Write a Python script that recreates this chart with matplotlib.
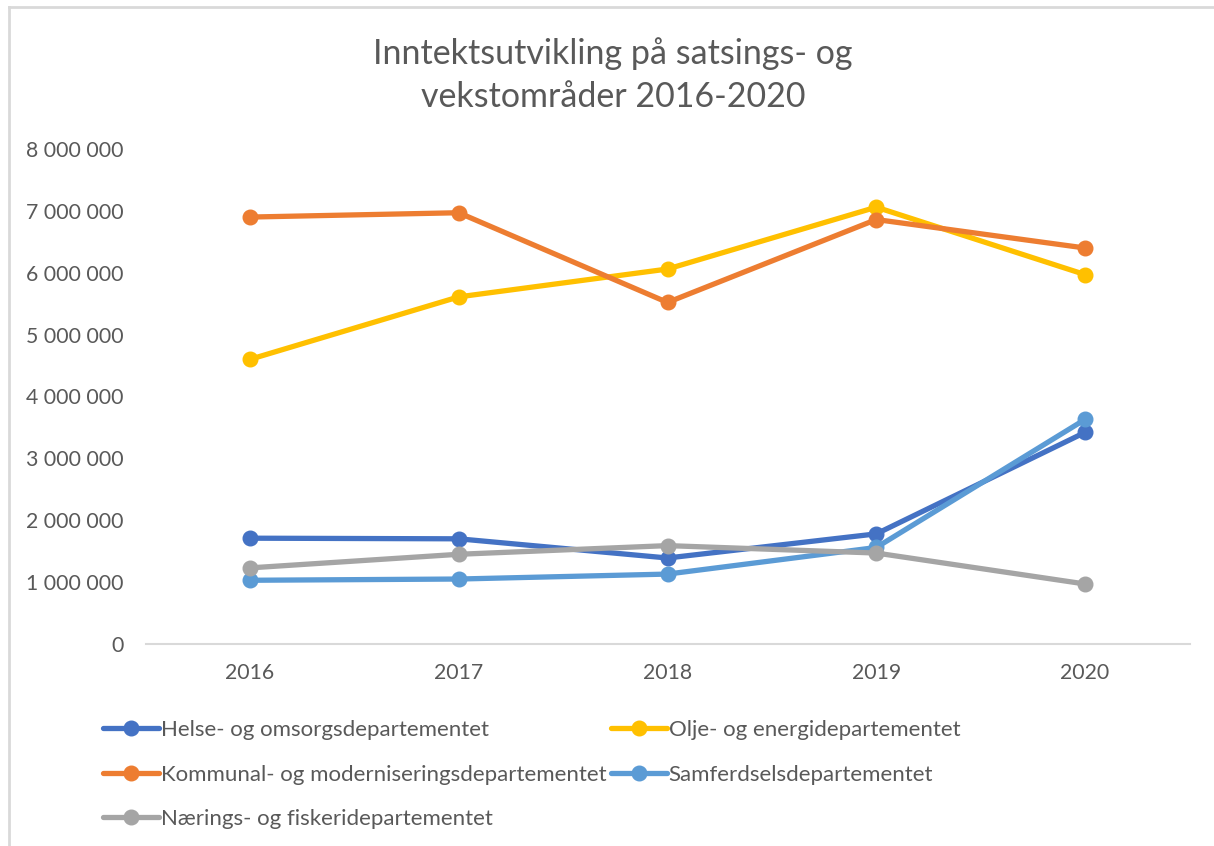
import matplotlib
matplotlib.use("Agg")
import matplotlib.pyplot as plt
from matplotlib.lines import Line2D
from matplotlib.ticker import FuncFormatter

plt.rcParams['font.family'] = ['Lato', 'DejaVu Sans']

# Data
years = ["2016", "2017", "2018", "2019", "2020"]
helse = [1710000, 1700000, 1390000, 1780000, 3420000]
olje = [4600000, 5610000, 6060000, 7060000, 5970000]
kommunal = [6900000, 6970000, 5520000, 6860000, 6400000]
samferdsel = [1030000, 1050000, 1130000, 1560000, 3630000]
naering = [1230000, 1450000, 1590000, 1470000, 970000]

series_names = [
    "Helse- og omsorgsdepartementet",
    "Olje- og energidepartementet",
    "Kommunal- og moderniseringsdepartementet",
    "Samferdselsdepartementet",
    "Nærings- og fiskeridepartementet",
]
series_values = [helse, olje, kommunal, samferdsel, naering]
colors = ["#4472C4", "#FFC000", "#ED7D31", "#5B9BD5", "#A5A5A5"]

TEXT = "#595959"
W, H = 1214, 846

fig = plt.figure(figsize=(W / 100, H / 100), dpi=100)

# chart frame (only top and left edges are visible in the crop)
fig.add_artist(Line2D([8.5 / W, 8.5 / W], [0, 1 - 7 / H], transform=fig.transFigure,
                      color="#D9D9D9", lw=2))
fig.add_artist(Line2D([8.5 / W, 1], [1 - 7 / H, 1 - 7 / H], transform=fig.transFigure,
                      color="#D9D9D9", lw=2))

left, right, top, bottom = 145.5, 1189.5, 149, 644
ax = fig.add_axes([left / W, 1 - bottom / H, (right - left) / W, (bottom - top) / H])

x = list(range(len(years)))
lines = []
for name, vals, c in zip(series_names, series_values, colors):
    ln, = ax.plot(x, vals, color=c, lw=3.8, marker="o", markersize=10.5,
                  solid_capstyle="round", label=name, clip_on=False)
    lines.append(ln)

ax.set_xlim(-0.5, len(years) - 0.5)
ax.set_ylim(0, 8000000)
ax.set_yticks(range(0, 8000001, 1000000))
ax.yaxis.set_major_formatter(FuncFormatter(lambda v, p: f"{v:,.0f}".replace(",", " ")))
ax.set_xticks(x)
ax.set_xticklabels(years)

for s in ["top", "right", "left"]:
    ax.spines[s].set_visible(False)
ax.spines["bottom"].set_color("#D9D9D9")
ax.spines["bottom"].set_linewidth(1.5)
ax.tick_params(axis="both", length=0, labelsize=15.3, labelcolor=TEXT)
ax.tick_params(axis="y", pad=16)
ax.tick_params(axis="x", pad=14)

fig.text(613 / W, 1 - 75 / H, "Inntektsutvikling på satsings- og\nvekstområder 2016-2020",
         ha="center", va="center", fontsize=24.5, color=TEXT, linespacing=1.4)

order = [0, 2, 4, 1, 3]
leg = fig.legend([lines[i] for i in order], [series_names[i] for i in order],
                 loc="upper left", bbox_to_anchor=(92 / W, 1 - 709 / H), ncol=2,
                 frameon=False, fontsize=16, handlelength=2.5, handletextpad=0.1,
                 columnspacing=0.2, labelspacing=1.1, labelcolor=TEXT, borderpad=0)

fig.savefig("out.png", dpi=100)
